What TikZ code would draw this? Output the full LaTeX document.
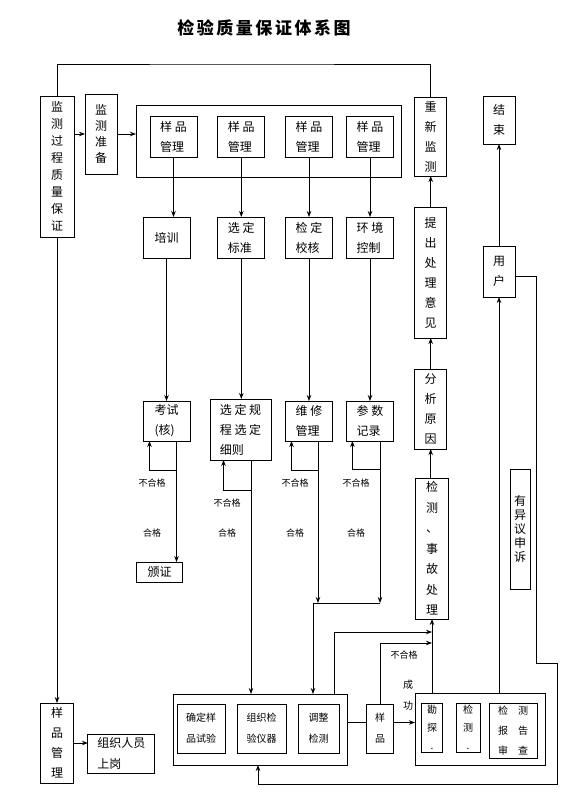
\documentclass[tikz,border=0pt]{standalone}
\usepackage{fontspec}
\setmainfont{Noto Sans CJK SC}
\usepackage{tikz}
\usetikzlibrary{positioning,arrows.meta,calc}

\tikzset{
  % --- nodes
  sz/.style 2 args = {minimum width=#1, minimum height=#2},
  box/.style  = {draw=black, line width=1pt, fill=white, inner sep=1pt, outer sep=0pt,
                 align=left, font=\fontsize{12}{20}\selectfont},
  vbox/.style = {box, align=center},
  grp/.style  = {draw=black, line width=1pt, inner sep=0pt, outer sep=0pt},
  sbox/.style = {box, align=center, font=\fontsize{10}{21}\selectfont},
  lbl/.style  = {font=\fontsize{9}{10}\selectfont, inner sep=0pt},
  % --- edges
  ln/.style   = {draw=black, line width=0.8pt},
  arr/.style  = {ln, -{Stealth[length=6pt,width=4.5pt]}},
}

\begin{document}
\begin{tikzpicture}[x=1pt,y=-1pt]
  \useasboundingbox (0,0) rectangle (580,800);

  \node[font=\fontsize{17}{20}\selectfont\bfseries\addfontfeature{LetterSpace=15}] (title) at (264,28) {检验质量保证体系图};

  % top row
  \node[vbox, sz={34}{141}, font=\fontsize{12}{17}\selectfont] (mjgc) at (57,166.5) {监\\测\\过\\程\\质\\量\\保\\证};
  \node[vbox, sz={32}{80}, font=\fontsize{12}{16}\selectfont] (jczb) at (101,134) {监\\测\\准\\备};
  \node[grp, sz={265}{72}] (grp) at (268.5,141) {};
  \node[box, sz={47}{41}] (yp1) at (173.5,136.5) {样 品\\管理};
  \node[box, sz={47}{41}] (yp2) at (241.3,136.5) {样 品\\管理};
  \node[box, sz={47}{41}] (yp3) at (309,136.5) {样 品\\管理};
  \node[box, sz={47}{41}] (yp4) at (370,136.5) {样 品\\管理};
  \node[vbox, sz={31.5}{79}] (cxjc) at (430.7,136.5) {重\\新\\监\\测};
  \node[vbox, sz={32}{48}] (js) at (499,120) {结\\束};

  % second row
  \node[box, sz={47}{41}] (px) at (166.5,237.5) {培训};
  \node[box, sz={47}{41}] (xdbz) at (241.3,237.5) {选 定\\标准};
  \node[box, sz={47}{41}] (jdjh) at (309,237.5) {检 定\\校核};
  \node[box, sz={47}{41}] (hjkz) at (370,237.5) {环 境\\控制};
  \node[vbox, sz={31.5}{131}] (tcyj) at (430.7,272.5) {提\\出\\处\\理\\意\\见};
  \node[vbox, sz={32}{51}] (yh) at (499,271.5) {用\\户};

  % third row
  \node[vbox, sz={31.5}{80}] (fxyy) at (430.7,409) {分\\析\\原\\因};
  \node[box, sz={47}{40}] (ks) at (166.5,421) {考试\\(核)};
  \node[box, sz={61}{61}] (xdgc) at (240.5,429.5) {选 定 规\\程 选 定\\细则};
  \node[box, sz={47}{40}] (wxgl) at (309,421) {维 修\\管理};
  \node[box, sz={47}{40}] (cssl) at (370,421) {参 数\\记录};

  \node[vbox, sz={33}{141}, font=\fontsize{12}{20.5}\selectfont] (sgzl) at (432,548.5) {检\\测\\、\\事\\故\\处\\理};
  \node[vbox, sz={20}{120}, font=\fontsize{12}{14}\selectfont] (yyss) at (520,529) {有\\异\\议\\申\\诉};
  \node[box, sz={46}{20}] (bz) at (159.6,572) {颁证};

  % bottom row
  \node[vbox, sz={33}{80}] (ypgl) at (57.2,743) {样\\品\\管\\理};
  \node[box, sz={67}{39}, font=\fontsize{12}{21}\selectfont] (zzry) at (121.4,753.5) {组织人员\\上岗};
  \node[grp, sz={174}{71}] (jcgz) at (260,729.5) {};
  \node[sbox, sz={48}{49}] (qdsy) at (201,728.5) {确定样\\品试验};
  \node[sbox, sz={49}{49}] (zzyq) at (261.5,728.5) {组织检\\验仪器};
  \node[sbox, sz={41}{49}] (tzjc) at (318.5,728.5) {调整\\检测};
  \node[sbox, sz={27}{49}] (ypx) at (380,728.5) {样\\品};
  \node[grp, sz={130}{72}] (bgjc) at (480,729) {};
  \node[sbox, sz={21}{49}, font=\fontsize{10}{18}\selectfont] (ktb) at (432,727.5) {勘\\探\\.};
  \node[sbox, sz={24}{49}, font=\fontsize{10}{18}\selectfont] (jcd) at (468,727.5) {检\\测\\.};
  \node[sbox, sz={48}{55}, font=\fontsize{10}{20}\selectfont] (bgsc) at (513,730.5) {检\quad 测\\报\quad 告\\审\quad 查};

  % labels
  \node[lbl] (bh1) at (152,483) {不合格};
  \node[lbl] (bh2) at (227,503) {不合格};
  \node[lbl] (bh3) at (295,483) {不合格};
  \node[lbl] (bh4) at (356,483) {不合格};
  \node[lbl] (bh5) at (404,655) {不合格};
  \node[lbl] (hg1) at (152,533) {合格};
  \node[lbl] (hg2) at (227,533) {合格};
  \node[lbl] (hg3) at (295,533) {合格};
  \node[lbl] (hg4) at (356,533) {合格};
  \node[lbl, font=\fontsize{10}{21}\selectfont, align=center] (cg) at (408,695.5) {成\\功};

  % branch points
  \coordinate (tl)  at (240,64);
  \coordinate (ksj) at (176.5,470);
  \coordinate (xdj) at (251,490);
  \coordinate (wxj) at (318,470);
  \coordinate (csj) at (380,469);
  \coordinate (hj)  at (313,603);
  \coordinate (hj2) at (380,603);
  \coordinate (tj)  at (334,632);
  \coordinate (yj)  at (380,643);
  \coordinate (r1)  at (536,663);
  \coordinate (r2)  at (557,784);

  % edges
  \draw[ln] (mjgc.north) |- (tl) -| (cxjc.north);
  \draw[arr] (mjgc.east |- jczb) -- (jczb);
  \draw[arr] (jczb) -- (jczb -| grp.west);

  \draw[arr] (yp1) -- (yp1 |- px.north);
  \foreach \a/\b in {yp2/xdbz, yp3/jdjh, yp4/hjkz}
    \draw[arr] (\a) -- (\b);
  \draw[arr] (px) -- (ks);
  \draw[arr] (xdbz) -- (xdbz |- xdgc.north);
  \draw[arr] (jdjh) -- (wxgl);
  \draw[arr] (hjkz) -- (cssl);

  \draw[arr] (ks.south -| ksj) -- (ksj |- bz.north);
  \draw[arr] (ksj) -| ([xshift=-17]ks.south);
  \draw[arr] (xdgc.south -| xdj) -- (xdj |- jcgz.north);
  \draw[arr] (xdj) -| ([xshift=-17]xdgc.south);
  \draw[arr] (wxgl.south -| wxj) -- (wxj |- hj);
  \draw[arr] (wxj) -| ([xshift=-17.5]wxgl.south);
  \draw[arr] (cssl.south -| csj) -- (csj |- hj);
  \draw[arr] (csj) -| ([xshift=-17.6]cssl.south);
  \draw[ln] (hj) -- (hj2);
  \draw[arr] (hj) -- (hj |- jcgz.north);

  \draw[arr] (tcyj) -- (cxjc);
  \draw[arr] (fxyy) -- (tcyj);
  \draw[arr] (sgzl.north -| fxyy) -- (fxyy);

  \draw[arr] (mjgc) -- (mjgc |- ypgl.north);
  \draw[arr] (ypgl) -- (ypgl -| zzry.west);

  \draw[arr] (tj |- jcgz.north) -- (tj) -- (tj -| sgzl);
  \draw[arr] (ypx) |- (yj -| sgzl);
  \draw[ln] ([yshift=6]ypx.west -| jcgz.east) -- ([yshift=6]ypx.west);
  \draw[arr] ([yshift=6]ypx.east) -- ([yshift=6]ypx.east -| bgjc.west);
  \draw[arr] (bgjc.north -| sgzl) -- (sgzl);
  \draw[arr] (bgjc.north -| yh) -- (yh);
  \draw[arr] (yh) -- (js);
  \draw[arr] ([yshift=-5]yh.east) -| (r1) -| (r2) -| ([xshift=-2]jcgz.south);
\end{tikzpicture}
\end{document}
